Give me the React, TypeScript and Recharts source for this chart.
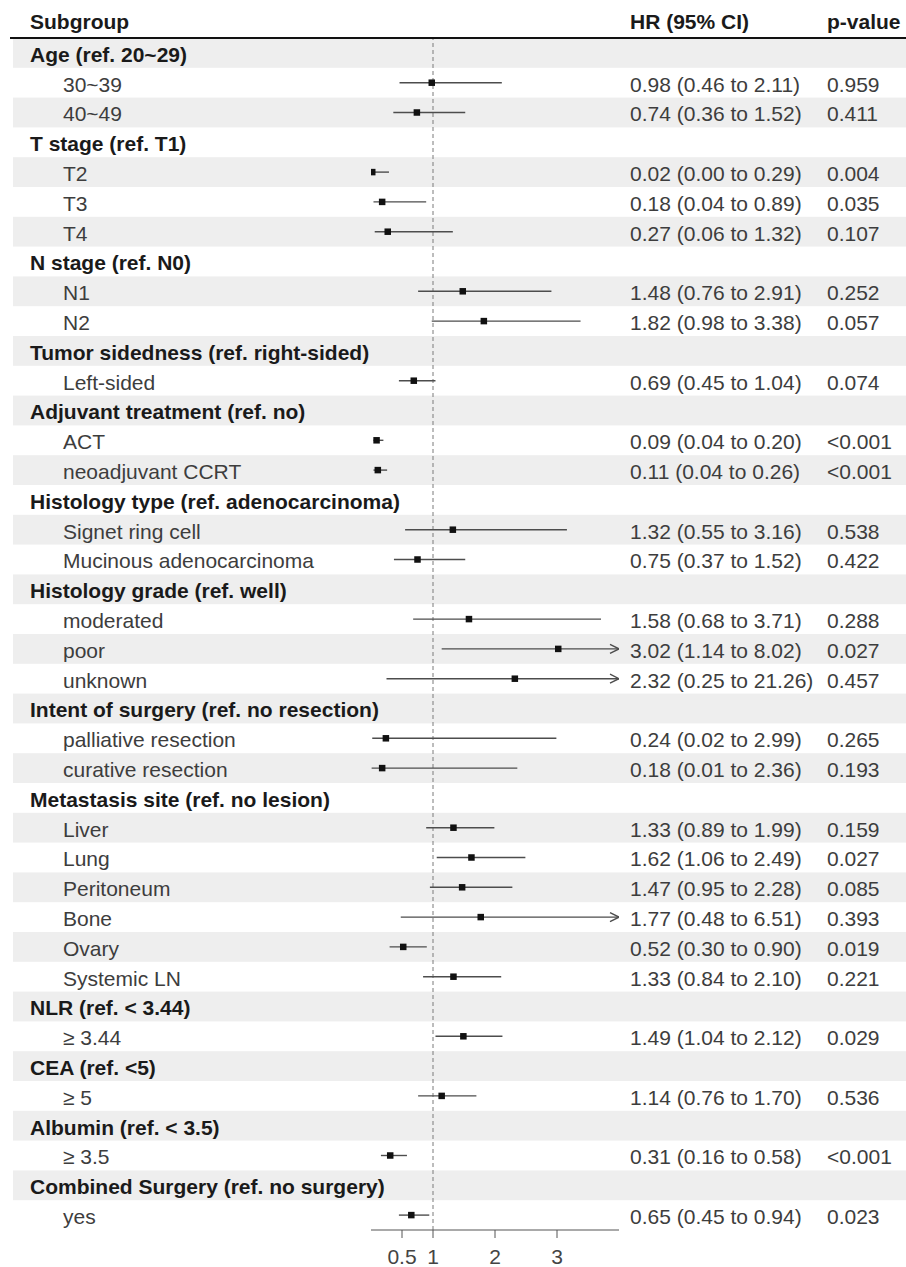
import React from 'react';
import { ScatterChart, Scatter, XAxis, YAxis, ErrorBar, ReferenceLine, ReferenceArea } from 'recharts';

// one entry per table row; group headers carry no estimate
const labels = [
  'Age (ref. 20~29)', '30~39', '40~49',
  'T stage (ref. T1)', 'T2', 'T3', 'T4',
  'N stage (ref. N0)', 'N1', 'N2',
  'Tumor sidedness (ref. right-sided)', 'Left-sided',
  'Adjuvant treatment (ref. no)', 'ACT', 'neoadjuvant CCRT',
  'Histology type (ref. adenocarcinoma)', 'Signet ring cell', 'Mucinous adenocarcinoma',
  'Histology grade (ref. well)', 'moderated', 'poor', 'unknown',
  'Intent of surgery (ref. no resection)', 'palliative resection', 'curative resection',
  'Metastasis site (ref. no lesion)', 'Liver', 'Lung', 'Peritoneum', 'Bone', 'Ovary', 'Systemic LN',
  'NLR (ref. < 3.44)', '≥ 3.44',
  'CEA (ref. <5)', '≥ 5',
  'Albumin (ref. < 3.5)', '≥ 3.5',
  'Combined Surgery (ref. no surgery)', 'yes',
];

const hr = [
  null, 0.98, 0.74,
  null, 0.02, 0.18, 0.27,
  null, 1.48, 1.82,
  null, 0.69,
  null, 0.09, 0.11,
  null, 1.32, 0.75,
  null, 1.58, 3.02, 2.32,
  null, 0.24, 0.18,
  null, 1.33, 1.62, 1.47, 1.77, 0.52, 1.33,
  null, 1.49,
  null, 1.14,
  null, 0.31,
  null, 0.65,
];

const lower = [
  null, 0.46, 0.36,
  null, 0.0, 0.04, 0.06,
  null, 0.76, 0.98,
  null, 0.45,
  null, 0.04, 0.04,
  null, 0.55, 0.37,
  null, 0.68, 1.14, 0.25,
  null, 0.02, 0.01,
  null, 0.89, 1.06, 0.95, 0.48, 0.3, 0.84,
  null, 1.04,
  null, 0.76,
  null, 0.16,
  null, 0.45,
];

const upper = [
  null, 2.11, 1.52,
  null, 0.29, 0.89, 1.32,
  null, 2.91, 3.38,
  null, 1.04,
  null, 0.2, 0.26,
  null, 3.16, 1.52,
  null, 3.71, 8.02, 21.26,
  null, 2.99, 2.36,
  null, 1.99, 2.49, 2.28, 6.51, 0.9, 2.1,
  null, 2.12,
  null, 1.7,
  null, 0.58,
  null, 0.94,
];

const pValues = [
  '', '0.959', '0.411',
  '', '0.004', '0.035', '0.107',
  '', '0.252', '0.057',
  '', '0.074',
  '', '<0.001', '<0.001',
  '', '0.538', '0.422',
  '', '0.288', '0.027', '0.457',
  '', '0.265', '0.193',
  '', '0.159', '0.027', '0.085', '0.393', '0.019', '0.221',
  '', '0.029',
  '', '0.536',
  '', '<0.001',
  '', '0.023',
];

const xTicks = [0.5, 1, 2, 3];
const xDomain = [0, 4];

const FONT = '"Liberation Sans", Arial, Helvetica, sans-serif';
const FS = 21;

const rows = labels.map((label, i) => ({
  row: i + 1,
  label,
  isGroup: hr[i] === null,
  hr: hr[i],
  lower: lower[i],
  upper: upper[i],
  p: pValues[i],
}));
const rowIds = rows.map((r) => r.row);

const points = rows
  .filter((r) => !r.isGroup)
  .map((r) => ({
    row: r.row,
    hr: r.hr as number,
    err: [(r.hr as number) - (r.lower as number), Math.min(r.upper as number, xDomain[1]) - (r.hr as number)],
  }));

// CIs running past the axis end get an arrow
const arrows = rows
  .filter((r) => !r.isGroup && (r.upper as number) > xDomain[1])
  .map((r) => ({ row: r.row, hr: xDomain[1] }));

const fmt = (v: number | null) => (v as number).toFixed(2);

function RowTick(props: any) {
  const { y, payload } = props;
  const r = rows[payload.value - 1];
  if (!r) return null;
  if (r.isGroup) {
    return (
      <text x={30} y={y} dy="0.42em" fontFamily={FONT} fontSize={FS} fontWeight="bold" fill="#1a1a1a">
        {r.label}
      </text>
    );
  }
  return (
    <g fontFamily={FONT} fontSize={FS} fill="#3d3d3d">
      <text x={63} y={y} dy="0.42em">{r.label}</text>
      <text x={630} y={y} dy="0.42em">{`${fmt(r.hr)} (${fmt(r.lower)} to ${fmt(r.upper)})`}</text>
      <text x={827} y={y} dy="0.42em">{r.p}</text>
    </g>
  );
}

function Band(props: any) {
  return <rect x={13} y={props.y} width={893} height={props.height} fill="#eeeeee" />;
}

function Square(props: any) {
  const { cx, cy } = props;
  return <rect x={cx - 3.25} y={cy - 3.25} width={6.5} height={6.5} fill="#111" />;
}

function Arrow(props: any) {
  const { cx, cy } = props;
  return (
    <path
      d={`M${cx - 9},${cy - 4.5} L${cx},${cy} L${cx - 9},${cy + 4.5}`}
      fill="none"
      stroke="#4d4d4d"
      strokeWidth={1.4}
    />
  );
}

export default function App() {
  return (
    <div style={{ position: 'absolute', left: 0, top: 0, width: 906, height: 1267, background: '#fff' }}>
      <ScatterChart width={906} height={1267} margin={{ top: 38, right: 287, bottom: 0, left: 0 }}>
        {rows
          .filter((r) => r.row % 2 === 1)
          .map((r) => (
            <ReferenceArea
              key={`band-${r.row}`}
              yAxisId="rows"
              y1={r.row - 0.5}
              y2={r.row + 0.5}
              ifOverflow="visible"
              shape={<Band />}
            />
          ))}
        <XAxis
          type="number"
          dataKey="hr"
          domain={xDomain}
          ticks={xTicks}
          allowDataOverflow
          height={37}
          tickSize={8}
          tickMargin={11}
          stroke="#555"
          tick={{ fill: '#444', fontSize: FS, fontFamily: FONT }}
        />
        <YAxis
          yAxisId="rows"
          type="number"
          dataKey="row"
          domain={[0.5, rows.length + 0.5]}
          reversed
          ticks={rowIds}
          interval={0}
          width={371}
          axisLine={false}
          tickLine={false}
          tick={(p: any) => <RowTick {...p} />}
        />
        <ReferenceLine yAxisId="rows" x={1} stroke="#7a7a7a" strokeDasharray="4 3" />
        <Scatter yAxisId="rows" data={points} shape={<Square />} isAnimationActive={false}>
          <ErrorBar dataKey="err" direction="x" width={0} stroke="#4d4d4d" strokeWidth={1.4} isAnimationActive={false} />
        </Scatter>
        <Scatter yAxisId="rows" data={arrows} shape={<Arrow />} isAnimationActive={false} />
      </ScatterChart>
      <svg width={906} height={40} style={{ position: 'absolute', left: 0, top: 0 }}>
        <g fontFamily={FONT} fontSize={FS} fontWeight="bold" fill="#1a1a1a">
          <text x={30} y={29}>Subgroup</text>
          <text x={630} y={29}>HR (95% CI)</text>
          <text x={827} y={29}>p-value</text>
        </g>
        <line x1={10} x2={906} y1={38} y2={38} stroke="#111" strokeWidth={2} />
      </svg>
    </div>
  );
}
